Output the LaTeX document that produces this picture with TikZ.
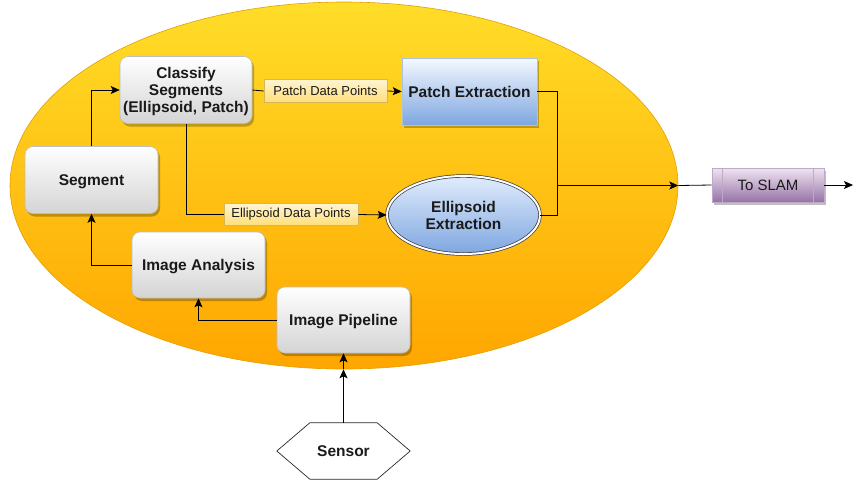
\documentclass[tikz,border=0pt]{standalone}
\usepackage{fontspec}
\setmainfont{Liberation Sans}
\usetikzlibrary{shapes.geometric,shadows,arrows.meta,calc}
\definecolor{txt}{HTML}{1A1A1A}
\definecolor{boxline}{HTML}{BDBDBD}
\definecolor{lblline}{HTML}{D6B656}
\tikzset{
  arr/.style={draw=black, line width=0.8pt, -{Stealth[length=9pt,width=8pt,inset=2pt]}},
  ln/.style={draw=black, line width=0.8pt},
  shad/.style={drop shadow={shadow xshift=2pt, shadow yshift=-3pt, opacity=0.25, fill=black}},
  graybox/.style={rectangle, rounded corners=8pt, draw=boxline, line width=0.6pt,
     top color=white, bottom color={rgb,255:red,212;green,212;blue,212},
     shad, inner sep=0pt, align=center, text=txt, text depth=0pt,
     font=\fontsize{15.5}{17}\selectfont\bfseries},
  lbl/.style={rectangle, draw=lblline, line width=0.6pt,
     top color={rgb,255:red,255;green,244;blue,210}, bottom color={rgb,255:red,255;green,222;blue,120},
     inner sep=0pt, text=txt, font=\fontsize{13}{15}\selectfont},
}
\begin{document}
\begin{tikzpicture}[x=1pt,y=-1pt]
\useasboundingbox (0,0) rectangle (853,483);
% environment ellipse
\node[ellipse, minimum width=668pt, minimum height=367pt, inner sep=0pt,
  top color={rgb,255:red,255;green,221;blue,40}, bottom color={rgb,255:red,255;green,166;blue,0},
  draw={rgb,255:red,225;green,160;blue,0}, line width=0.6pt] (env) at (344,185.5) {};
% nodes
\node[graybox, minimum width=132pt, minimum height=67pt] (classify) at (186,90) {Classify\\Segments\\(Ellipsoid, Patch)};
\node[graybox, minimum width=133pt, minimum height=67pt] (segment) at (91.5,180) {Segment};
\node[graybox, minimum width=133pt, minimum height=66pt] (analysis) at (198.5,265) {Image Analysis};
\node[graybox, minimum width=133pt, minimum height=66pt] (pipe) at (343.5,320) {Image Pipeline};
\node[rectangle, draw={rgb,255:red,170;green,195;blue,225}, line width=0.6pt,
  top color={rgb,255:red,245;green,249;blue,255}, bottom color={rgb,255:red,126;green,166;blue,224},
  shad, minimum width=135pt, minimum height=67pt, inner sep=0pt, text=txt, text depth=0pt,
  font=\fontsize{15.5}{17}\selectfont\bfseries] (patch) at (469.5,91.5) {Patch Extraction};
\node[ellipse, draw={rgb,255:red,54;green,57;blue,61}, line width=0.7pt, double distance=2pt,
  top color={rgb,255:red,225;green,236;blue,252}, bottom color={rgb,255:red,126;green,166;blue,224},
  minimum width=153pt, minimum height=78pt, inner sep=0pt, align=center, text=txt,
  font=\fontsize{15.5}{17}\selectfont\bfseries] (ellip) at (463.5,215) {Ellipsoid\\Extraction};
\node[lbl, minimum width=123pt, minimum height=23pt] (plbl) at (325.5,91) {Patch Data Points};
\node[lbl, minimum width=134pt, minimum height=22pt] (elbl) at (291,214.5) {Ellipsoid Data Points};
% To SLAM
\node[rectangle, draw={rgb,255:red,190;green,170;blue,200}, line width=0.6pt,
  top color={rgb,255:red,240;green,228;blue,242}, bottom color={rgb,255:red,150;green,115;blue,166},
  shad, minimum width=112pt, minimum height=34pt, inner sep=0pt, text=txt,
  font=\fontsize{15}{17}\selectfont] (slam) at (768,185) {To SLAM};
\draw[draw={rgb,255:red,190;green,170;blue,200}, line width=0.6pt]
  ($(slam.north west)+(11,0)$) -- ($(slam.south west)+(11,0)$)
  ($(slam.north east)+(-11,0)$) -- ($(slam.south east)+(-11,0)$);
% Sensor hexagon
\node[minimum width=133pt, minimum height=56pt, inner sep=0pt] (sensor) at (343.5,451) {};
\draw[line width=0.7pt, draw={rgb,255:red,40;green,40;blue,40}, fill=white] (sensor.west) -- ($(sensor.north west)+(33,0)$) -- ($(sensor.north east)+(-33,0)$)
  -- (sensor.east) -- ($(sensor.south east)+(-33,0)$) -- ($(sensor.south west)+(33,0)$) -- cycle;
\node[text=txt, text depth=0pt, font=\fontsize{15.5}{17}\selectfont\bfseries] at (sensor.center) {Sensor};
% connectors
\draw[arr] (sensor.north) -- (sensor.north |- env.south);
\draw[arr] (pipe.south |- env.south) -- (pipe.south);
\draw[arr] (pipe.west) -| (analysis.south);
\draw[arr] (analysis.west) -| (segment.south);
\draw[arr] (segment.north) |- (classify.west);
\draw[ln] (classify.east) -- (plbl.west);
\draw[arr] (plbl.east) -- (patch.west);
\draw[ln] (classify.south) |- (elbl.west);
\draw[arr] (elbl.east) -- (ellip.west);
\coordinate (m) at (557,185.5);
\draw[ln] (patch.east) -| (m);
\draw[ln] (ellip.east) -| (m);
\draw[arr] (m) -- (m -| env.east);
\draw[ln] (m -| env.east) -- (slam.west);
\coordinate (out) at (853,185);
\draw[arr] (slam.east) -- (out);
\end{tikzpicture}
\end{document}
